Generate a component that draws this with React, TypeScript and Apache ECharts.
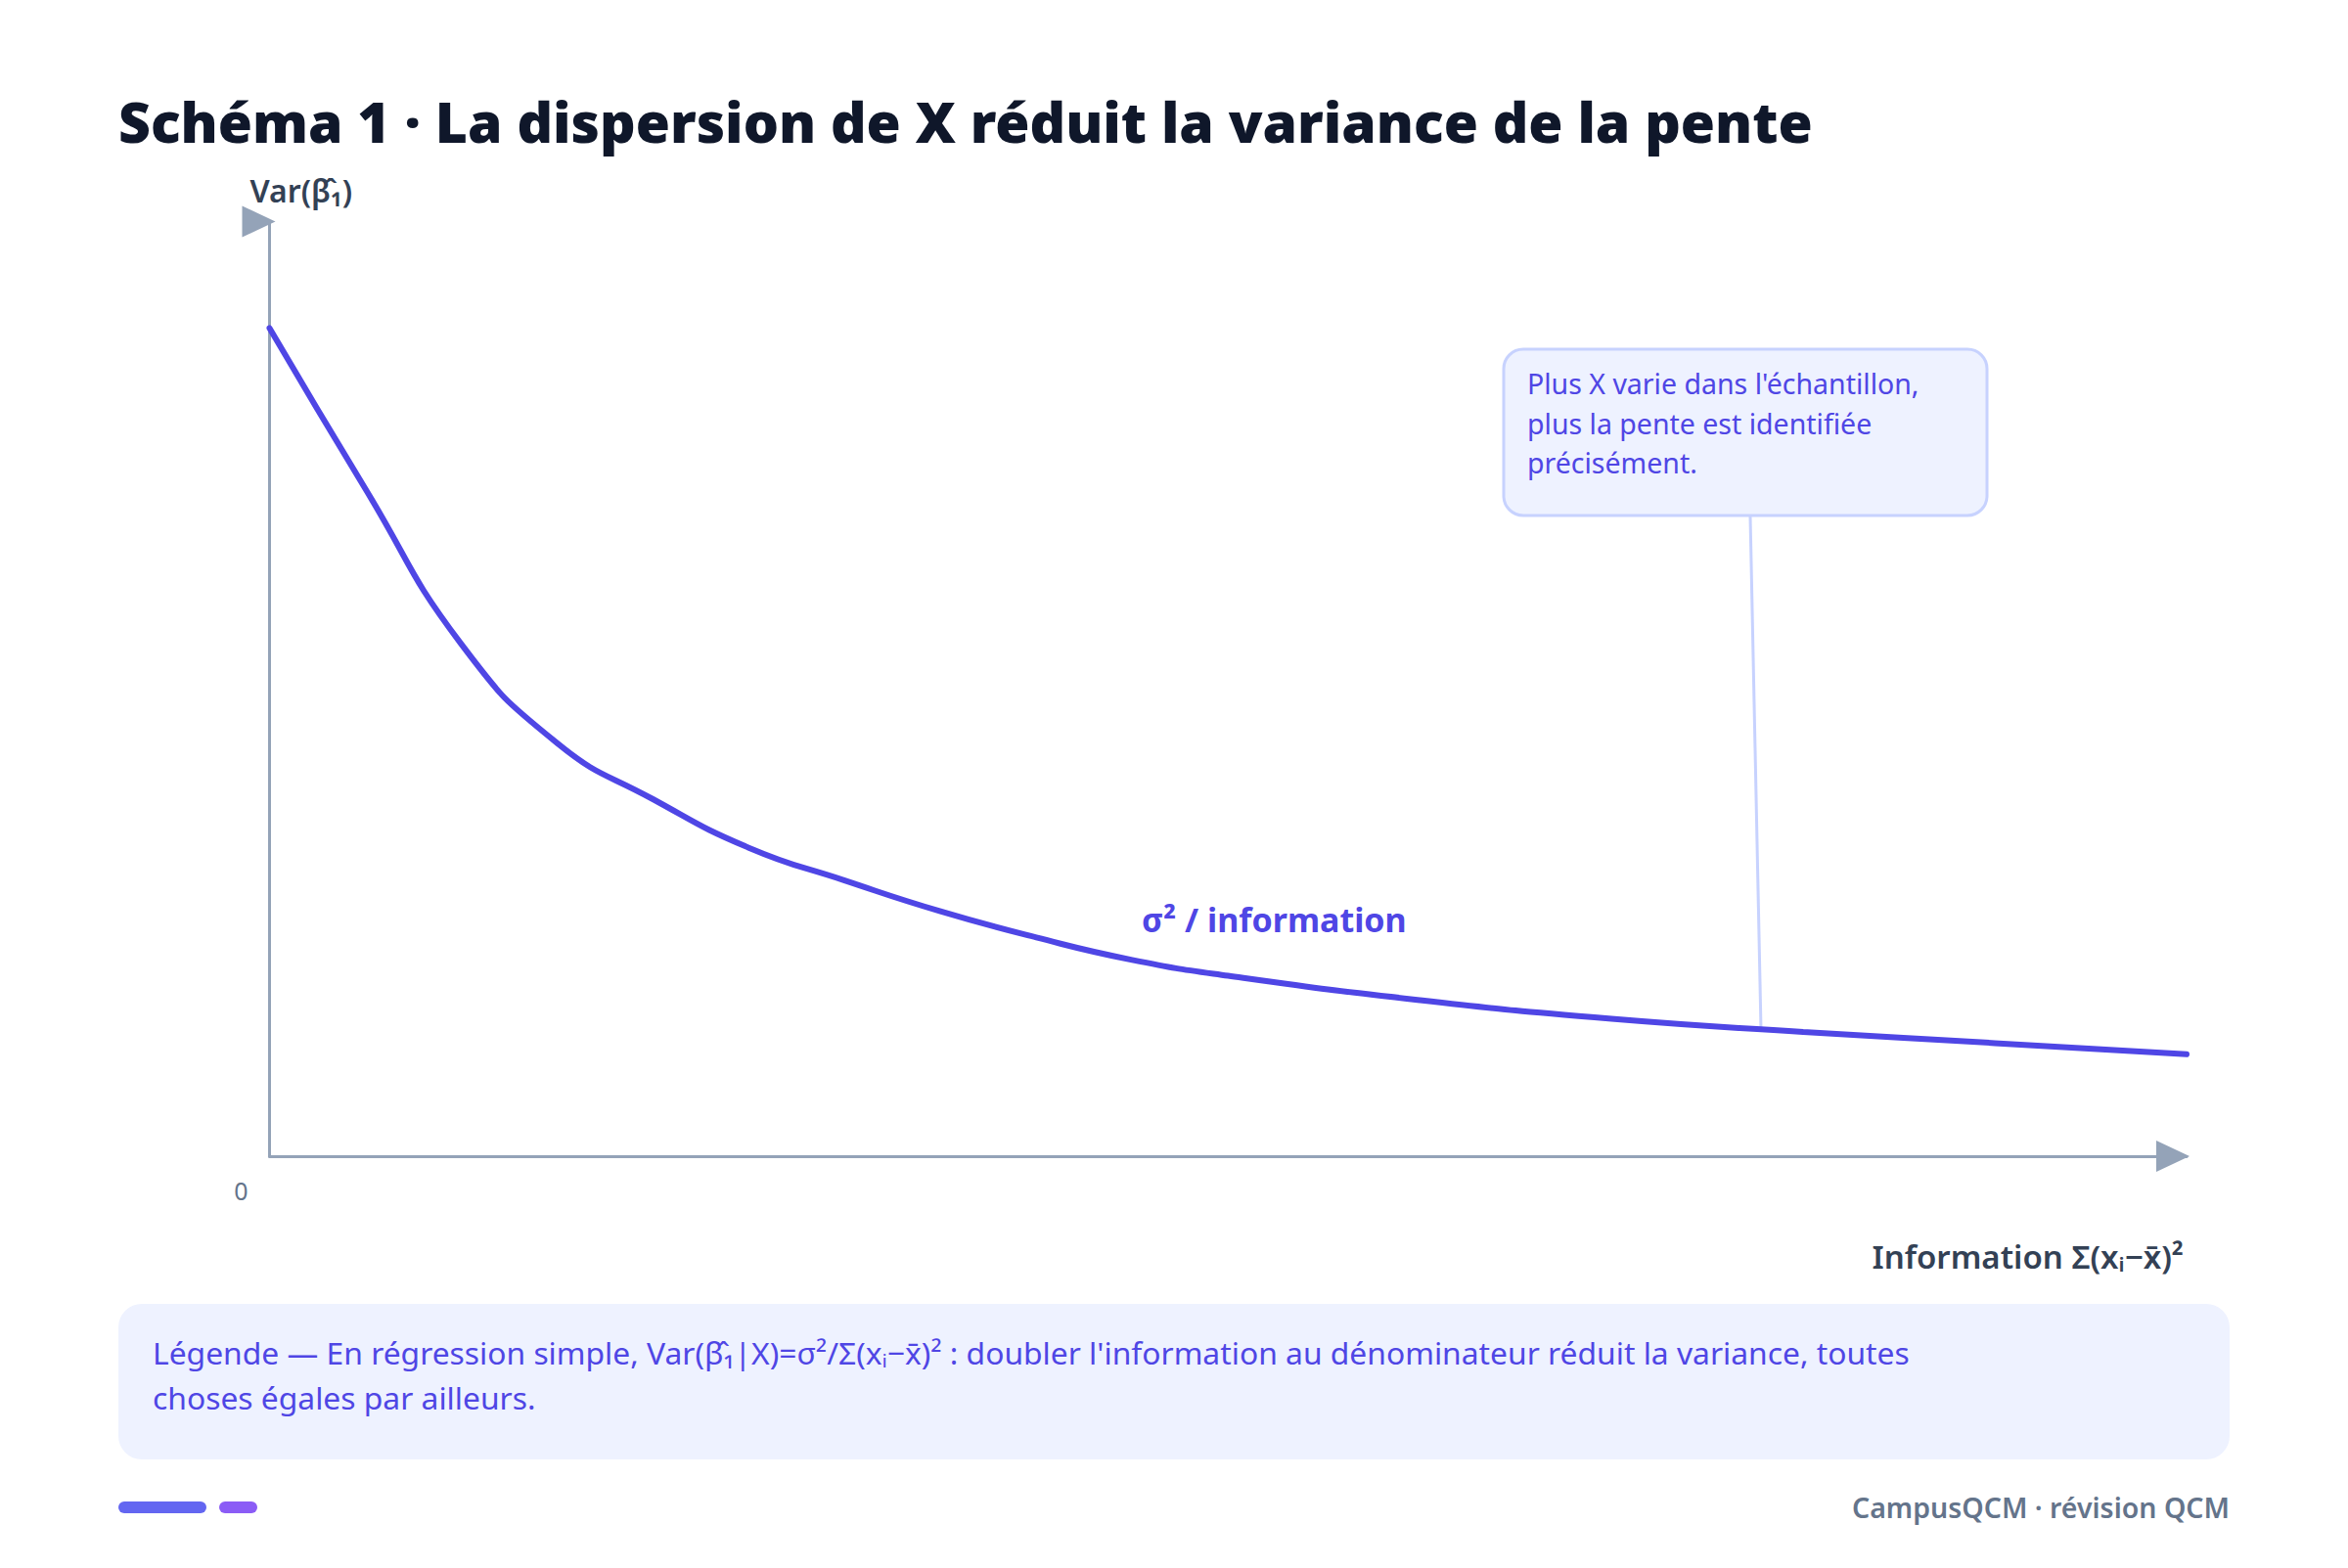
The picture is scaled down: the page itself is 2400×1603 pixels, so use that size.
import React, { useEffect, useRef } from "react";
import * as echarts from "echarts";

const W = 2400;
const H = 1603;

const TITLE = "Schéma 1 · La dispersion de X réduit la variance de la pente";
const Y_AXIS_NAME = "Var(β̂₁)";
const X_AXIS_NAME = "Information Σ(xᵢ−x̄)²";
const ORIGIN_LABEL = "0";
const CURVE_LABEL = "σ² / information";
const CALLOUT_LINES = [
  "Plus X varie dans l'échantillon,",
  "plus la pente est identifiée",
  "précisément.",
];
const LEGEND_LINES = [
  "Légende — En régression simple, Var(β̂₁|X)=σ²/Σ(xᵢ−x̄)² : doubler l'information au dénominateur réduit la variance, toutes",
  "choses égales par ailleurs.",
];
const FOOTER = "CampusQCM · révision QCM";

// information (x) and variance (y)
const infoValues = [0, 0.5, 1, 1.5, 2, 2.5, 3, 3.5, 4, 4.5, 5, 6, 7, 8, 9, 10];
const varianceValues = [8.86, 7.14, 5.48, 4.42, 3.82, 3.3, 2.95, 2.62, 2.34, 2.1, 1.93, 1.67, 1.47, 1.33, 1.21, 1.09];
const calloutAnchor = [7.78, 1.36];
const curveLabelAt = [4.55, 2.53];

const FONT = "'Noto Sans', 'Open Sans', sans-serif";
const AXIS_COLOR = "#94a3b8";
const INDIGO = "#4f46e5";

export default function App() {
  const ref = useRef<HTMLDivElement>(null);

  useEffect(() => {
    if (!ref.current) return;
    const chart = echarts.init(ref.current, undefined, { renderer: "svg", width: W, height: H });
    const gridLeft = 275.5;
    const gridRight = 165;
    const gridTop = 226.5;
    const gridBottom = 421;

    chart.setOption({
      animation: false,
      backgroundColor: "#ffffff",
      textStyle: { fontFamily: FONT },
      grid: { left: gridLeft, right: gridRight, top: gridTop, bottom: gridBottom, containLabel: false },
      xAxis: {
        type: "value",
        min: 0,
        max: 10,
        axisLine: {
          show: true,
          symbol: ["none", "triangle"],
          symbolSize: [32, 34],
          symbolOffset: [0, -14],
          lineStyle: { color: AXIS_COLOR, width: 3 },
        },
        axisTick: { show: false },
        axisLabel: { show: false },
        splitLine: { show: false },
      },
      yAxis: {
        type: "value",
        min: 0,
        max: 10,
        axisLine: { show: true, lineStyle: { color: AXIS_COLOR, width: 3 } },
        axisTick: { show: false },
        axisLabel: { show: false },
        splitLine: { show: false },
      },
      series: [
        {
          type: "line",
          data: infoValues.map((x, i) => [x, varianceValues[i]]),
          smooth: 0.5,
          showSymbol: false,
          lineStyle: { color: INDIGO, width: 6, cap: "round" },
          z: 5,
        },
      ],
    });

    const anchor = chart.convertToPixel({ gridIndex: 0 }, calloutAnchor) as number[];
    const labelPos = chart.convertToPixel({ gridIndex: 0 }, curveLabelAt) as number[];
    const origin = chart.convertToPixel({ gridIndex: 0 }, [0, 0]) as number[];
    const yTop = chart.convertToPixel({ gridIndex: 0 }, [0, 10]) as number[];

    const boxX = 1537, boxY = 357, boxW = 494, boxH = 170;

    chart.setOption({
      graphic: [
        {
          type: "text",
          left: 121,
          top: 95,
          style: { text: TITLE, fill: "#0f172a", font: `900 57px ${FONT}` },
        },
        // y axis arrow head (right-pointing triangle)
        {
          type: "polygon",
          shape: {
            points: [
              [yTop[0] - 28, yTop[1] - 16],
              [yTop[0] + 6, yTop[1]],
              [yTop[0] - 28, yTop[1] + 16],
            ],
          },
          style: { fill: AXIS_COLOR },
          z: 10,
        },
        {
          type: "text",
          x: yTop[0] - 20,
          y: yTop[1] - 32,
          style: { text: Y_AXIS_NAME, fill: "#334155", font: `600 32px ${FONT}`, textVerticalAlign: "middle" },
        },
        {
          type: "text",
          x: origin[0] - 29,
          y: origin[1] + 35,
          style: { text: ORIGIN_LABEL, fill: "#64748b", font: `400 25px ${FONT}`, textAlign: "center", textVerticalAlign: "middle" },
        },
        {
          type: "text",
          x: 2232,
          y: 1284,
          style: { text: X_AXIS_NAME, fill: "#334155", font: `600 33px ${FONT}`, textAlign: "right", textVerticalAlign: "middle" },
        },
        {
          type: "text",
          x: labelPos[0],
          y: labelPos[1],
          style: { text: CURVE_LABEL, fill: INDIGO, font: `700 34px ${FONT}`, textAlign: "left", textVerticalAlign: "middle" },
          z: 6,
        },
        // callout pointer
        {
          type: "line",
          shape: { x1: anchor[0] - 11, y1: boxY + boxH, x2: anchor[0], y2: anchor[1] },
          style: { stroke: "#c7d2fe", lineWidth: 3 },
          z: 4,
        },
        {
          type: "rect",
          shape: { x: boxX, y: boxY, width: boxW, height: boxH, r: 20 },
          style: { fill: "#eef2ff", stroke: "#c7d2fe", lineWidth: 3 },
          z: 7,
        },
        ...CALLOUT_LINES.map((t, i) => ({
          type: "text",
          x: boxX + 24,
          y: 392 + i * 40.5,
          style: { text: t, fill: INDIGO, font: `400 28.5px ${FONT}`, textVerticalAlign: "middle" },
          z: 8,
        })),
        // legend box
        {
          type: "rect",
          shape: { x: 121, y: 1333, width: 2158, height: 159, r: 24 },
          style: { fill: "#eef2ff" },
        },
        ...LEGEND_LINES.map((t, i) => ({
          type: "text",
          x: 156,
          y: 1382 + i * 46,
          style: { text: t, fill: INDIGO, font: `400 31.8px ${FONT}`, textVerticalAlign: "middle" },
        })),
        // footer
        {
          type: "rect",
          shape: { x: 121, y: 1535, width: 90, height: 12, r: 6 },
          style: { fill: "#6366f1" },
        },
        {
          type: "rect",
          shape: { x: 224, y: 1535, width: 39, height: 12, r: 6 },
          style: { fill: "#8b5cf6" },
        },
        {
          type: "text",
          x: 2279,
          y: 1541,
          style: { text: FOOTER, fill: "#64748b", font: `600 28.5px ${FONT}`, textAlign: "right", textVerticalAlign: "middle" },
        },
      ],
    });

    return () => chart.dispose();
  }, []);

  return (
    <div
      ref={ref}
      style={{ position: "fixed", left: 0, top: 0, width: W, height: H, background: "#fff" }}
    />
  );
}
